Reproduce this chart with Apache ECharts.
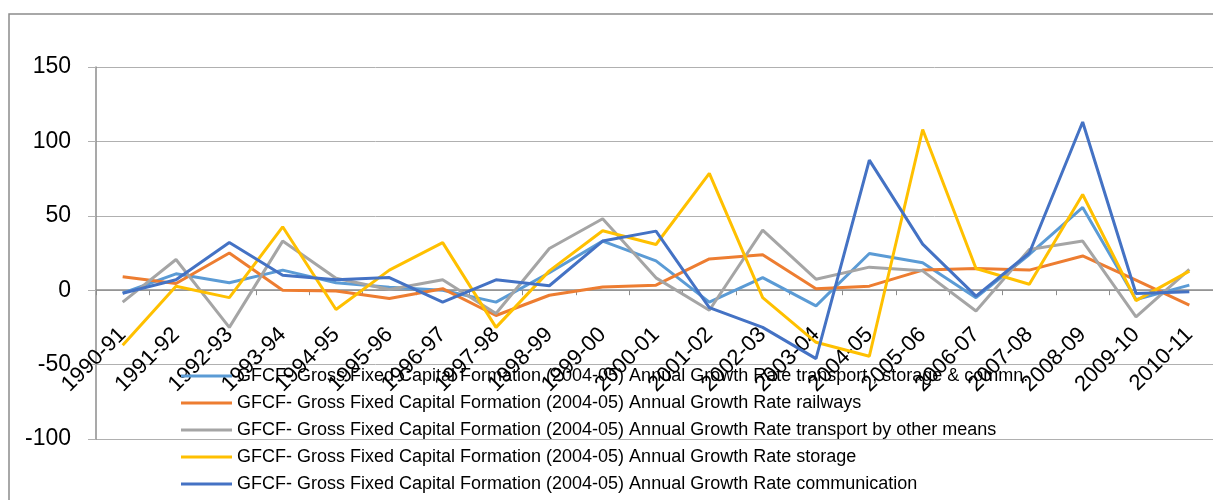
<!DOCTYPE html>
<html>
<head>
<meta charset="utf-8">
<script src="https://cdn.jsdelivr.net/npm/echarts@6/dist/echarts.min.js"></script>
<style>
  html, body { margin: 0; padding: 0; background: #fff; }
  #chart { width: 1213px; height: 500px; }
</style>
</head>
<body>
<div id="chart"></div>
<script>
const years = ['1990-91', '1991-92', '1992-93', '1993-94', '1994-95', '1995-96', '1996-97',
  '1997-98', '1998-99', '1999-00', '2000-01', '2001-02', '2002-03', '2003-04', '2004-05',
  '2005-06', '2006-07', '2007-08', '2008-09', '2009-10', '2010-11']

const prefix = 'GFCF- Gross Fixed Capital Formation (2004-05) Annual Growth Rate '
const seriesNames = [
  prefix + 'transport , storage & commn.',
  prefix + 'railways',
  prefix + 'transport by other means',
  prefix + 'storage',
  prefix + 'communication',
]

// values
const transportStorageComm = [-2, 11, 5, 13.5, 5, 2, 0, -8, 11.7, 33, 19.7, -8, 8.5, -10.5, 24.7, 18.4, -5, 24, 55.6, -6.3, 3.4]
const railways = [9, 4.5, 25, 0, -0.5, -5.6, 1, -17, -3.4, 2.2, 3.4, 21, 23.8, 1, 2.7, 13.5, 14.6, 13.5, 23, 6.7, -10]
const otherMeans = [-8, 20.6, -25, 33, 8, 0.5, 7, -15.7, 28, 48, 8.3, -13.5, 40.4, 7.4, 15.5, 13, -14, 27.4, 33, -18, 14]
const storage = [-37, 2.7, -5, 42.6, -13, 13.5, 32, -25, 13, 40, 30.7, 78.5, -5, -35, -44.4, 108, 14.6, 4, 64.3, -7, 12.8]
const communication = [-2, 7, 32, 10, 7, 8.5, -8, 7, 3, 33, 39.7, -11.7, -25, -46, 87.4, 31, -4, 25, 113, -2.2, -1]

const yTicks = { min: -100, max: 150, interval: 50 }

const COLORS = ['#5B9BD5', '#ED7D31', '#A5A5A5', '#FFC000', '#4472C4']
const FONT = 'Liberation Sans'
const LABEL_GAP = 41 // distance of rotated category labels below the zero line

const chart = echarts.init(document.getElementById('chart'))

const dataSets = [transportStorageComm, railways, otherMeans, storage, communication]

chart.setOption({
  animation: false,
  color: COLORS,
  textStyle: { fontFamily: FONT },
  graphic: [{
    type: 'rect', silent: true, z: -1,
    shape: { x: 9, y: 14, width: 1220, height: 500 },
    style: { fill: 'none', stroke: '#8c8c8c', lineWidth: 1.5 },
  }],
  grid: { left: 96, right: -3, top: 67, bottom: 61, containLabel: false, outerBoundsMode: 'none' },
  legend: {
    orient: 'vertical', left: 181, top: 366, padding: 0,
    icon: 'rect', itemWidth: 51, itemHeight: 3, itemGap: 7,
    textStyle: { color: '#000', fontSize: 18, fontFamily: FONT, lineHeight: 20 },
    data: seriesNames,
  },
  xAxis: {
    type: 'category', data: years, boundaryGap: true,
    axisLine: { onZero: true, lineStyle: { color: '#8c8c8c', width: 1.5 } },
    axisTick: { show: true, length: 5, lineStyle: { color: '#8c8c8c' } },
    axisLabel: { rotate: 45, interval: 0, margin: LABEL_GAP, fontSize: 22, color: '#000', fontFamily: FONT },
    splitLine: { show: false },
  },
  yAxis: {
    type: 'value', min: yTicks.min, max: yTicks.max, interval: yTicks.interval,
    axisLine: { show: true, lineStyle: { color: '#8c8c8c', width: 1.5 } },
    axisTick: { show: true, length: 8, lineStyle: { color: '#b0b0b0' } },
    axisLabel: { margin: 25, fontSize: 23, color: '#000', fontFamily: FONT },
    splitLine: { show: true, lineStyle: { color: '#b0b0b0', width: 1 } },
  },
  series: dataSets.map((d, i) => ({
    name: seriesNames[i], type: 'line', data: d,
    showSymbol: false, symbol: 'none',
    lineStyle: { width: 3, color: COLORS[i] },
  })),
})

// labels stay at the grid bottom, so pull them up next to the zero line
const zeroY = chart.convertToPixel({ yAxisIndex: 0 }, 0)
const bottomY = chart.convertToPixel({ yAxisIndex: 0 }, yTicks.min)
chart.setOption({ xAxis: { axisLabel: { margin: LABEL_GAP - (bottomY - zeroY) } } })
</script>
</body>
</html>
